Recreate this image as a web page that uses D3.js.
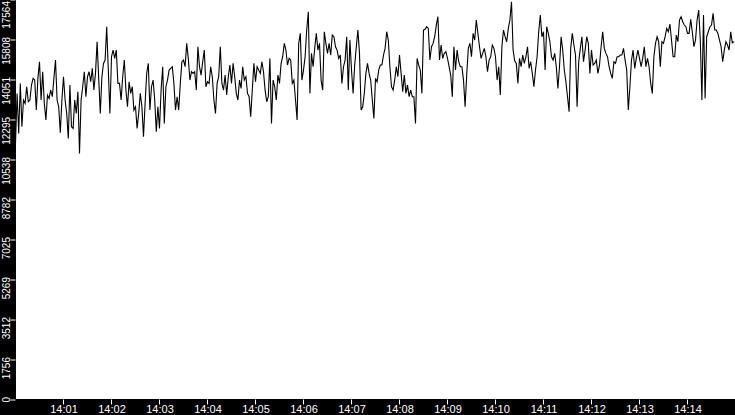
<!DOCTYPE html>
<html><head><meta charset="utf-8">
<script src="https://cdn.jsdelivr.net/npm/d3@7"></script>
<style>
html,body{margin:0;padding:0;background:#000;overflow:hidden}
svg{display:block}
text{font-family:"Liberation Sans",Arial,sans-serif;fill:#fff}
</style></head>
<body><svg id="c" width="735" height="415"></svg>
<script>
const startTime = "14:00:00";
const endTime = "14:15:00";
const sampleSeconds = 2;
const xTickLabels = ["14:01","14:02","14:03","14:04","14:05","14:06","14:07","14:08","14:09","14:10","14:11","14:12","14:13","14:14"];
const yTicks = [0,1756,3512,5269,7025,8782,10538,12295,14051,15808,17564];
const values = [
11245,13441,11684,13880,11977,13148,13002,13734,13075,13148,13807,14100,14026,12709,14100,14832,13148,14392,13002,12270,
13368,13221,13587,13294,14100,14905,13148,12855,11713,13148,14173,13148,12562,11464,13807,11977,11904,13148,12562,13514,
10806,13148,13734,14392,13294,14173,14392,13953,14539,13587,14319,15710,14100,12562,14173,14758,14905,16369,14466,12562,
15051,15344,14978,15344,13880,
13880,13148,14173,14905,13587,12855,13953,13441,13734,12709,12855,11904,12562,13441,12855,11538,13002,14319,14758,12709,
13734,14026,13148,11757,12855,11904,13587,14612,12123,13734,14026,14466,14539,14612,13880,12709,13294,12709,13880,14832,
14905,14612,15637,14978,14026,14392,14319,14392,13587,15490,14612,14246,14832,15344,13734,13953,13880,14612,14173,13148,
12562,13880,14173,15490,13880,
13587,14246,13368,14173,14685,13880,14758,14173,13441,13148,14026,13660,14612,14026,14173,13441,13294,12416,13587,14758,
13953,14612,14466,14319,14832,14392,13587,13075,13294,14978,12123,14026,13734,13148,14246,13880,14758,15051,15637,15344,
14685,14978,14905,13880,14026,13148,12270,15637,16076,14026,14466,15051,16222,17028,13441,15198,14612,15417,16076,15344,
15637,14026,13587,16149,15637,
15198,15637,15124,16003,15930,15490,15344,14978,15124,13880,14612,14905,15930,13587,15783,14466,13441,14685,15490,16222,
15198,12709,12855,13441,14319,14758,14319,14026,13148,12343,14100,13953,14466,14685,14685,15124,15417,16149,15783,14612,
13734,13587,14026,14612,14173,15124,14319,13514,14246,13441,13807,13294,13587,13294,13294,12123,14978,14685,14466,13441,
16222,16252,16369,16296,14905,
15490,15637,15930,16442,16808,14905,15564,14978,15198,15271,14978,14612,14246,13294,15490,14466,15344,14832,14612,14612,
14026,12855,14246,15417,15637,15051,16076,15783,16662,16076,15490,14978,15198,15417,15051,14392,14905,15051,15564,15417,
15051,14026,14612,13368,15490,16222,15930,15710,16296,16662,17467,15344,14876,14758,13880,14978,14612,15124,14758,15051,
15490,14539,14832,14319,13734,
14466,15051,16149,16881,15930,16149,14466,16369,16076,15710,15051,14905,15198,14612,13660,14612,15930,15344,14466,13953,
13294,12636,15417,16076,15564,15124,12855,14832,15417,15930,14832,15344,15930,15637,14319,15344,14685,14758,14905,14319,
14685,15490,16149,15417,15198,15051,14612,14319,14100,14832,14758,15051,15051,15124,15124,15417,14905,14466,12709,13734,
14905,15344,14539,14978,15344,
14978,14612,14978,15490,14612,14978,14612,13880,13441,15051,15637,15930,15710,14612,15710,15637,15930,16296,16149,16486,
15783,15051,15051,16003,15710,16662,16808,16588,16442,16369,16076,16076,16691,16149,15490,15783,16662,17101,15783,13148,
16881,13221,15930,16149,16369,16442,16954,16222,16222,16076,15783,15490,14832,15344,15710,15564,15344,16149,15666,15710
];

const W = 735, H = 415;
const plotLeft = 16, plotBottom = 399;
const parse = d3.timeParse("%H:%M:%S");
const parseTick = d3.timeParse("%H:%M");
const t0 = parse(startTime), t1 = parse(endTime);
const data = values.map((v, i) => ({t: new Date(t0.getTime() + i * sampleSeconds * 1000), v}));

const svg = d3.select("#c");
svg.append("rect").attr("x",0).attr("y",0).attr("width",W).attr("height",H).attr("fill","#000");
svg.append("rect").attr("x",plotLeft).attr("y",0).attr("width",W-plotLeft).attr("height",plotBottom).attr("fill","#fff");

const x = d3.scaleTime().domain([t0, t1]).range([15.5, 735.5]);
const y = d3.scaleLinear().domain([0, yTicks[yTicks.length-1]]).range([399.5, -0.5]);

// line
svg.append("path").datum(data)
  .attr("fill","none").attr("stroke","#000").attr("stroke-width",1.1)
  .attr("d", d3.line().x(d => x(d.t)).y(d => y(d.v)));

// x axis
const xAxis = d3.axisBottom(x)
  .tickValues(xTickLabels.map(s => parseTick(s)))
  .tickFormat(d3.timeFormat("%H:%M"))
  .tickSize(5).tickSizeOuter(0);
const gx = svg.append("g").attr("transform","translate(0,399.5)").call(xAxis);
gx.select(".domain").remove();
gx.selectAll(".tick line").attr("stroke","#fff").attr("transform","translate(-0.5,0)");
gx.selectAll(".tick text").attr("fill","#fff").attr("y",5.5).attr("dy","0.71em")
  .style("font-size","11px").style("font-family","'Liberation Sans',Arial,sans-serif");

// y axis
const yAxis = d3.axisLeft(y).tickValues(yTicks).tickFormat(d3.format("d")).tickSize(5).tickSizeOuter(0);
const gy = svg.append("g").attr("transform","translate(15.5,0)").call(yAxis);
gy.select(".domain").remove();
gy.selectAll(".tick line").attr("stroke","#fff");
gy.selectAll(".tick text")
  .attr("fill","#fff")
  .attr("x",0).attr("y",0).attr("dy",null)
  .attr("text-anchor","end")
  .attr("transform", d => `translate(-5.5,${Math.max(-3, 0.5 - y(d))}) rotate(-90)`)
  .style("font-size","10px").style("font-family","'Liberation Sans',Arial,sans-serif");
</script></body></html>
